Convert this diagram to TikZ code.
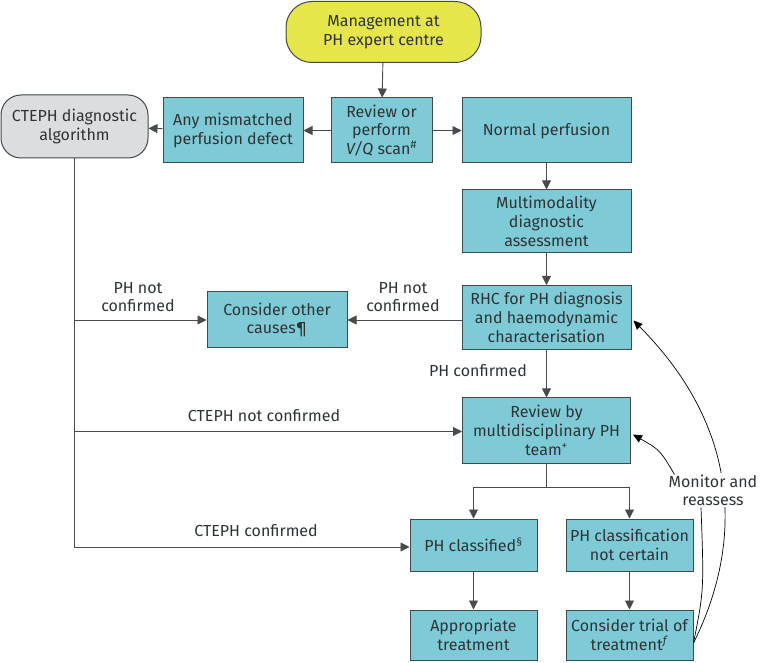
\documentclass[tikz,border=0pt]{standalone}
\usepackage{fontspec}
\setmainfont{Fira Sans}
\usetikzlibrary{arrows.meta,calc}
\definecolor{boxfill}{HTML}{7ECBD7}
\definecolor{boxline}{HTML}{3F4A4D}
\definecolor{yell}{HTML}{E6E64A}
\definecolor{greybox}{HTML}{DCDDDF}
\definecolor{txt}{HTML}{2E3436}
\definecolor{lin}{HTML}{4A4A4A}
\tikzset{
  box/.style={draw=boxline, line width=1pt, fill=boxfill, align=center, inner sep=0pt, text=txt, font=\fontsize{16}{18.8}\selectfont},
  lbl/.style={align=center, inner sep=1pt, text=txt, font=\fontsize{16}{18}\selectfont},
  arr/.style={draw=lin, line width=0.9pt, -{Triangle[length=9pt,width=9pt]}},
  ln/.style={draw=lin, line width=0.9pt},
  carr/.style={draw=black, line width=0.7pt, -{Triangle[length=9pt,width=8pt]}},
}
\begin{document}
\begin{tikzpicture}[x=1pt,y=-1pt]
\useasboundingbox (0,0) rectangle (764,663);
\node[box, fill=yell, rounded corners=26pt, minimum width=195pt, minimum height=61pt] (mgmt) at (383.5,32) {Management at\\PH expert centre};
\node[box, minimum width=101pt, minimum height=65pt] (review) at (381.5,130.5) {Review or\\perform\\\textit{V/Q} scan\textsuperscript{\#}};
\node[box, minimum width=169pt, minimum height=65pt] (normal) at (546.5,130.5) {Normal perfusion};
\node[box, minimum width=140pt, minimum height=65pt] (mismatch) at (233,130.5) {Any mismatched\\perfusion defect};
\node[box, fill=greybox, rounded corners=20pt, minimum width=147pt, minimum height=63pt] (cteph) at (74.5,126.5) {CTEPH diagnostic\\algorithm};
\node[box, minimum width=169pt, minimum height=63pt] (multi) at (546.5,221.5) {Multimodality\\diagnostic\\assessment};
\node[box, minimum width=169pt, minimum height=64pt] (rhc) at (546.5,317.5) {RHC for PH diagnosis\\and haemodynamic\\characterisation};
\node[box, minimum width=140pt, minimum height=56pt] (other) at (277,320) {Consider other\\causes¶};
\node[box, minimum width=168pt, minimum height=65pt] (mdt) at (546.5,430.5) {Review by\\multidisciplinary PH\\team\textsuperscript{+}};
\node[box, minimum width=127pt, minimum height=52pt] (classified) at (473.5,545) {PH classified\textsuperscript{§}};
\node[box, minimum width=127pt, minimum height=52pt] (notcertain) at (629.5,545) {PH classification\\not certain};
\node[box, minimum width=127pt, minimum height=50pt] (approp) at (473.5,635) {Appropriate\\treatment};
\node[box, minimum width=127pt, minimum height=50pt] (trial) at (629.5,635) {Consider trial of\\treatment\textsuperscript{\textit{f}}};

% main flow
\draw[arr] (mgmt) -- (review);
\draw[arr] (review) -- (mismatch);
\draw[arr] (mismatch) -- (cteph);
\draw[arr] (review) -- (normal);
\draw[arr] (normal) -- (multi);
\draw[arr] (multi) -- (rhc);
\draw[arr] (rhc.west |- other.east) -- (other.east);
\draw[arr] (rhc) -- (mdt);
\draw[ln] (mdt.south) -- ++(0,24) coordinate (br);
\draw[arr] (br) -| (classified.north);
\draw[arr] (br) -| (notcertain.north);
\draw[arr] (classified) -- (approp);
\draw[arr] (notcertain) -- (trial);

% left trunk
\draw[arr] (cteph.south) |- (other.west);
\draw[arr] (cteph.south) |- ($(mdt.west)+(0,1)$);
\draw[arr] (cteph.south) |- ($(classified.west)+(0,2)$);

% labels
\node[lbl] (l1) at (138,297) {PH not\\confirmed};
\node[lbl] (l2) at (403,297) {PH not\\confirmed};
\node[lbl] (l3) at (478,371) {PH confirmed};
\node[lbl] (l4) at (264,416) {CTEPH not confirmed};
\node[lbl] (l5) at (256,531) {CTEPH confirmed};

% monitor loop
\node[lbl, fill=white, inner sep=2pt] (mon) at (713,490) {Monitor and\\reassess};
\coordinate (ts) at ($(trial.east)+(0,8)$);
\draw[carr] (ts) .. controls (735,560) and (752,440) .. ($(rhc.east)+(2,3)$);
\node[lbl, fill=white, inner sep=2pt] at (713,490) {Monitor and\\reassess};
\draw[draw=black, line width=0.7pt] (ts) .. controls (704,590) .. ($(mon.south)+(-12,0)$);
\draw[carr] ($(mon.north west)+(8,2)$) .. controls (660,450) .. ($(mdt.east)+(2,4)$);
\end{tikzpicture}
\end{document}
